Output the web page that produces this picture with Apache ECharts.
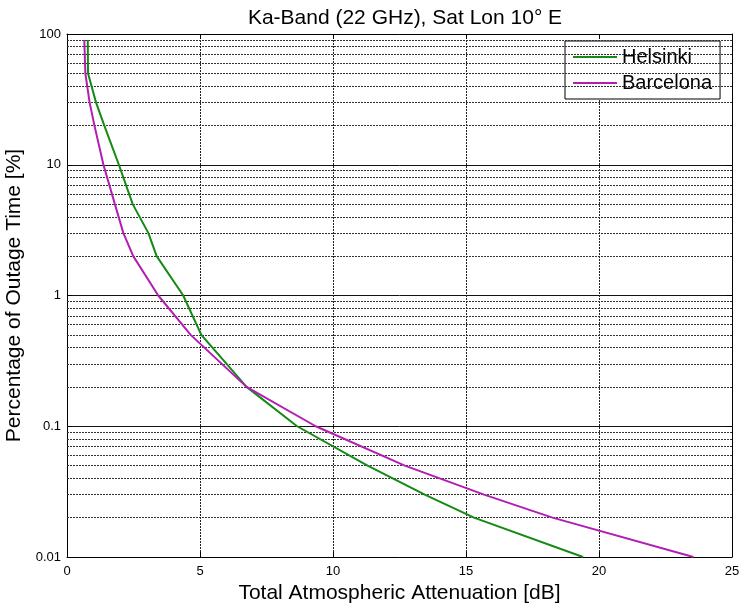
<!DOCTYPE html>
<html>
<head>
<meta charset="utf-8">
<script src="https://cdn.jsdelivr.net/npm/echarts@6/dist/echarts.min.js"></script>
<style>
  html, body { margin: 0; padding: 0; background: #fff; }
  #chart { width: 739px; height: 607px; }
</style>
</head>
<body>
<div id="chart"></div>
<script>
  // outage percentage points along each curve
  const helsinkiOutage = [90, 50, 30, 20, 10, 5, 3, 2, 1, 0.5, 0.3, 0.2, 0.1, 0.05, 0.03, 0.02, 0.01]
  const helsinkiAtten = [0.78, 0.79, 1.09, 1.40, 1.95, 2.47, 3.06, 3.37, 4.37, 5.05, 6.0, 6.75, 8.65, 11.3, 13.45, 15.3, 19.4]

  const barcelonaOutage = [90, 50, 30, 20, 10, 5, 3, 2, 1, 0.5, 0.3, 0.2, 0.1, 0.05, 0.03, 0.02, 0.01]
  const barcelonaAtten = [0.65, 0.69, 0.85, 1.03, 1.37, 1.80, 2.12, 2.49, 3.43, 4.65, 5.82, 6.75, 9.35, 12.7, 15.68, 18.25, 23.55]

  const yTickLabels = { '100': '100', '10': '10', '1': '1', '0.1': '0.1', '0.01': '0.01' }

  // minor log grid lines (2..9 in each decade)
  const decades = [0.01, 0.1, 1, 10]
  const minorGrid = []
  decades.forEach(d => {
    for (let k = 2; k <= 9; k++) minorGrid.push(+(d * k).toPrecision(3))
  })

  const font = 'Liberation Sans, Arial, sans-serif'

  const zip = (xs, ys) => xs.map((x, i) => [x, ys[i]])

  const chart = echarts.init(document.getElementById('chart'))

  chart.setOption({
    animation: false,
    textStyle: { fontFamily: font },
    title: {
      text: 'Ka-Band (22 GHz), Sat Lon 10° E',
      left: 400,
      textAlign: 'center',
      top: 3,
      textStyle: { fontFamily: font, fontSize: 21, fontWeight: 'normal', color: '#000' }
    },
    grid: { left: 67, right: 7, top: 34, bottom: 50, containLabel: false, outerBoundsMode: 'none' },
    legend: {
      orient: 'vertical',
      left: 565,
      top: 41,
      backgroundColor: '#fff',
      borderColor: '#000',
      borderWidth: 1,
      padding: [5, 8, 5, 8],
      itemGap: 4,
      itemWidth: 44,
      itemHeight: 2,
      icon: 'rect',
      textStyle: { fontFamily: font, fontSize: 20, color: '#000', lineHeight: 22 },
      data: ['Helsinki', 'Barcelona']
    },
    xAxis: [
      {
        type: 'value',
        min: 0,
        max: 25,
        interval: 5,
        name: 'Total Atmospheric Attenuation [dB]',
        nameLocation: 'middle',
        nameGap: 25,
        nameTextStyle: { fontFamily: font, fontSize: 21, color: '#000' },
        axisLine: { show: true, lineStyle: { color: '#000', width: 1 } },
        axisTick: { show: true, inside: true, length: 5, lineStyle: { color: '#000' } },
        axisLabel: { fontSize: 13, color: '#000', margin: 8 },
        splitLine: { show: true, lineStyle: { color: '#222', width: 1, type: [2, 1] } }
      },
      {
        type: 'value',
        position: 'top',
        min: 0,
        max: 25,
        interval: 5,
        axisLine: { show: true, onZero: false, lineStyle: { color: '#000', width: 1 } },
        axisTick: { show: true, inside: true, length: 5, lineStyle: { color: '#000' } },
        axisLabel: { show: false },
        splitLine: { show: false }
      }
    ],
    yAxis: [
      {
        type: 'log',
        logBase: 10,
        min: 0.01,
        max: 100,
        name: 'Percentage of Outage Time [%]',
        nameLocation: 'middle',
        nameGap: 35,
        nameTextStyle: { fontFamily: font, fontSize: 21, color: '#000' },
        axisLine: { show: true, lineStyle: { color: '#000', width: 1 } },
        axisTick: { show: true, inside: true, length: 5, lineStyle: { color: '#000' } },
        axisLabel: {
          fontSize: 13,
          color: '#000',
          margin: 6,
          formatter: v => yTickLabels[String(+v.toPrecision(3))] || ''
        },
        splitLine: { show: true, lineStyle: { color: '#111', width: 1, type: 'solid' } }
      },
      {
        type: 'log',
        logBase: 10,
        min: 0.01,
        max: 100,
        position: 'right',
        axisLine: { show: true, onZero: false, lineStyle: { color: '#000', width: 1 } },
        axisTick: { show: true, inside: true, length: 5, lineStyle: { color: '#000' } },
        axisLabel: { show: false },
        splitLine: { show: false }
      }
    ],
    series: [
      {
        name: 'Helsinki',
        type: 'line',
        data: zip(helsinkiAtten, helsinkiOutage),
        showSymbol: false,
        symbol: 'none',
        z: 5,
        color: '#148a14',
        lineStyle: { color: '#148a14', width: 2 },
        markLine: {
          silent: true,
          symbol: 'none',
          label: { show: false },
          animation: false,
          lineStyle: { color: '#333', width: 1, type: [2, 1] },
          data: minorGrid.map(v => ({ yAxis: v }))
        }
      },
      {
        name: 'Barcelona',
        type: 'line',
        data: zip(barcelonaAtten, barcelonaOutage),
        showSymbol: false,
        symbol: 'none',
        z: 6,
        color: '#b21eb2',
        lineStyle: { color: '#b21eb2', width: 2 }
      }
    ]
  })
</script>
</body>
</html>
